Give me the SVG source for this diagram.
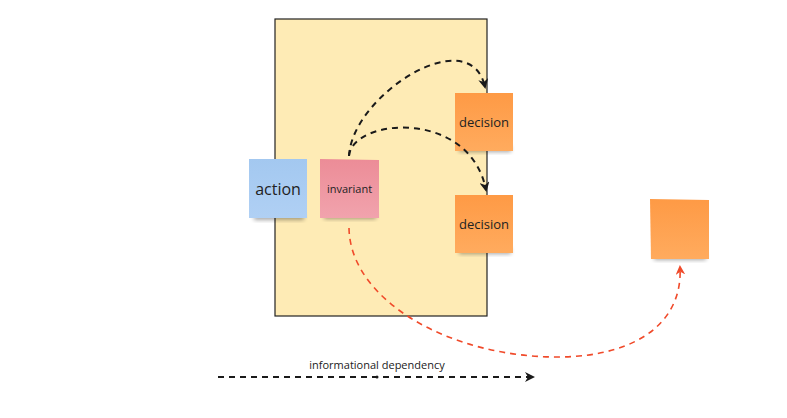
<svg xmlns="http://www.w3.org/2000/svg" width="787" height="418" viewBox="0 0 787 418">
<style>
text{font-family:"Open Sans","Noto Sans","DejaVu Sans",sans-serif;fill:#222;text-anchor:middle}
.dep{fill:none;stroke:#1a1a1a;stroke-width:2;stroke-dasharray:6,5}
.red{fill:none;stroke:#f04a2a;stroke-width:1.6;stroke-dasharray:6,5}
.shadow{fill:#000;opacity:0.35;filter:url(#blur)}
</style>
<defs>
<filter id="blur" x="-20%" y="-50%" width="140%" height="200%"><feGaussianBlur stdDeviation="2"/></filter>
<linearGradient id="gBlue" x1="0" y1="0" x2="0" y2="1"><stop offset="0" stop-color="#a3c8f0"/><stop offset="1" stop-color="#b0d0f4"/></linearGradient>
<linearGradient id="gPink" x1="0" y1="0" x2="0" y2="1"><stop offset="0" stop-color="#ec8c97"/><stop offset="1" stop-color="#f1a3ad"/></linearGradient>
<linearGradient id="gOrange" x1="0" y1="0" x2="0" y2="1"><stop offset="0" stop-color="#fe9a45"/><stop offset="1" stop-color="#ffab5e"/></linearGradient>
<marker id="ab" viewBox="0 0 10 10" refX="8" refY="5" markerWidth="5" markerHeight="5" orient="auto" markerUnits="strokeWidth"><path d="M0,0 L10,5 L0,10 L3,5 Z" fill="#1a1a1a"/></marker>
<marker id="ar" viewBox="0 0 10 10" refX="8" refY="5" markerWidth="6" markerHeight="6" orient="auto" markerUnits="strokeWidth"><path d="M0,0 L10,5 L0,10 L3,5 Z" fill="#f04a2a"/></marker>
</defs>
<g id="container"><rect x="275" y="19" width="212" height="297" fill="#feebb5" stroke="#222" stroke-width="1.2"/></g>
<g id="action">
<rect class="shadow" x="254" y="214" width="50" height="6"/>
<rect x="249" y="159" width="58" height="59" fill="url(#gBlue)"/>
<text x="278" y="195" font-size="16">action</text>
</g>
<g id="invariant">
<rect class="shadow" x="324" y="213" width="52" height="6"/>
<path d="M320,159 L379,160 L379,218 L320,218 Z" fill="url(#gPink)"/>
<text x="349.5" y="193" font-size="11">invariant</text>
</g>
<g id="decision1">
<rect class="shadow" x="459" y="146" width="52" height="6"/>
<rect x="455" y="93" width="58" height="58" fill="url(#gOrange)"/>
<text x="484" y="127" font-size="13">decision</text>
</g>
<g id="decision2">
<rect class="shadow" x="459" y="248" width="52" height="6"/>
<rect x="455" y="195" width="58" height="58" fill="url(#gOrange)"/>
<text x="484" y="229" font-size="13">decision</text>
</g>
<g id="sticky3">
<rect class="shadow" x="654" y="254" width="52" height="6"/>
<path d="M650,199 L709,200 L709,259 L651,259 Z" fill="url(#gOrange)"/>
</g>
<g id="connectors">
<path class="dep" d="M349,156 C352,95 470,20 485,87" marker-end="url(#ab)"/>
<path class="dep" d="M349,156 C352,118 470,108 486,190" marker-end="url(#ab)"/>
<path class="red" d="M349,228 C350,300 450,358 560,357 C640,356 683,320 680,267" marker-end="url(#ar)"/>
</g>
<g id="legend">
<path class="dep" d="M218,377 L533,377" marker-end="url(#ab)"/>
<circle cx="377" cy="377" r="1.5" fill="#1a1a1a"/>
<text x="377" y="369" font-size="11">informational dependency</text>
</g>
</svg>
